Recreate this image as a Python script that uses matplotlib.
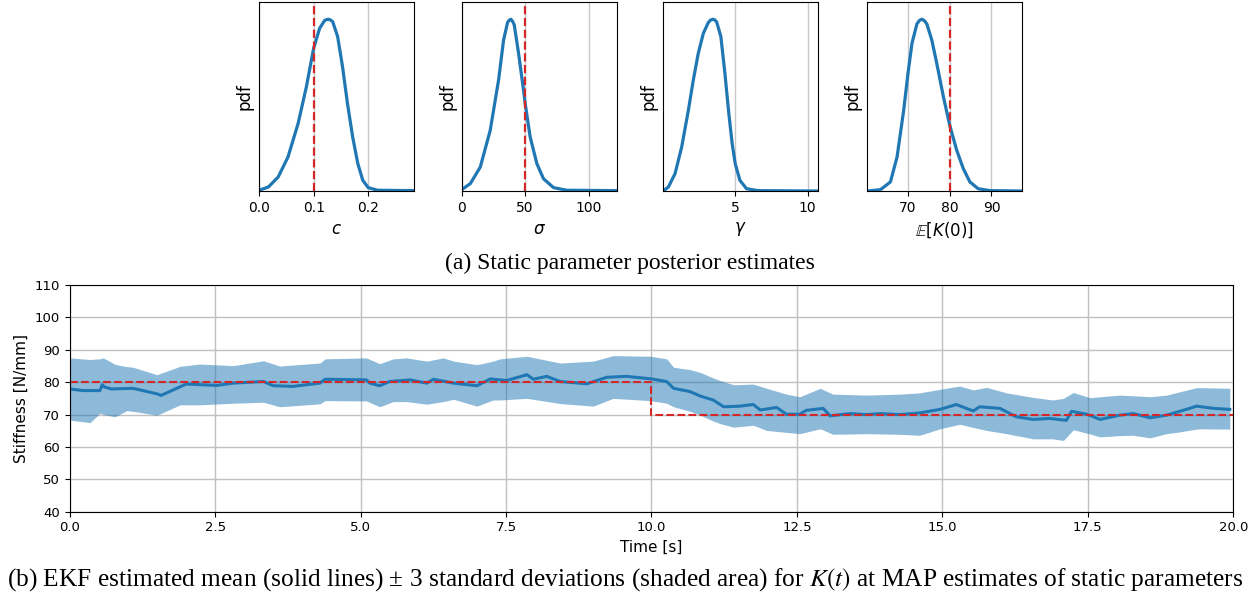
import matplotlib
matplotlib.use('Agg')
import matplotlib.pyplot as plt

plt.rcParams['mathtext.fontset'] = 'dejavusans'

# --- posterior pdfs (relative height) ---
c_x = [0.0, 0.017, 0.035, 0.053, 0.0715, 0.0867, 0.1, 0.111, 0.12, 0.1235, 0.127, 0.131,
       0.135, 0.144, 0.153, 0.162, 0.1715, 0.181, 0.19, 0.2, 0.217, 0.284]
c_pdf = [0.004, 0.021, 0.074, 0.18, 0.357, 0.552, 0.756, 0.862, 0.903, 0.908, 0.91, 0.906,
         0.897, 0.818, 0.658, 0.464, 0.287, 0.145, 0.057, 0.018, 0.004, 0.002]

sigma_x = [0.0, 6.8, 14.66, 22.5, 29.06, 33.0, 36.1, 37.4, 38.7, 40.0, 41.4, 44.8, 48.7,
           50.0, 53.9, 59.2, 64.4, 72.3, 82.7, 122.0]
sigma_pdf = [0.007, 0.039, 0.127, 0.322, 0.588, 0.8, 0.892, 0.905, 0.91, 0.90, 0.88,
             0.729, 0.535, 0.464, 0.287, 0.145, 0.065, 0.018, 0.004, 0.002]

gamma_x = [0.02, 0.39, 0.85, 1.31, 1.77, 2.11, 2.45, 2.80, 3.14, 3.29, 3.44, 3.58, 3.72,
           4.01, 4.29, 4.56, 4.79, 5.0, 5.32, 5.78, 6.58, 10.71]
gamma_pdf = [0.0, 0.021, 0.092, 0.234, 0.428, 0.588, 0.729, 0.835, 0.892, 0.905, 0.91,
             0.907, 0.896, 0.818, 0.623, 0.41, 0.251, 0.145, 0.057, 0.012, 0.002, 0.0]

k0_x = [60.24, 63.41, 65.79, 67.38, 68.97, 70.0, 70.95, 72.14, 72.7, 73.33, 73.9, 74.52,
        75.71, 76.9, 78.49, 80.0, 81.67, 83.25, 84.84, 86.83, 89.6, 97.38]
k0_pdf = [0.0, 0.007, 0.048, 0.18, 0.428, 0.623, 0.782, 0.885, 0.903, 0.91, 0.903, 0.885,
          0.8, 0.676, 0.499, 0.349, 0.216, 0.119, 0.048, 0.012, 0.002, 0.0]

# --- EKF stiffness estimate ---
mean_t = [0.0, 0.23, 0.52, 0.56, 0.6, 0.72, 1.09, 1.5, 1.57, 1.84, 2.0, 2.53, 2.81,
          3.33, 3.5, 3.84, 4.3, 4.39, 5.1, 5.16, 5.33, 5.5, 5.85, 6.14, 6.25, 6.6,
          7.0, 7.23, 7.51, 7.86, 7.97, 8.2, 8.43, 8.89, 9.23, 9.57, 10.0, 10.26,
          10.38, 10.66, 10.84, 11.06, 11.24, 11.52, 11.75, 11.87, 12.15, 12.32,
          12.55, 12.66, 12.95, 13.07, 13.41, 13.7, 13.93, 14.27, 14.61, 14.96,
          15.24, 15.53, 15.64, 15.99, 16.27, 16.56, 16.85, 17.13, 17.22, 17.48,
          17.71, 18.05, 18.28, 18.57, 18.85, 19.14, 19.37, 19.66, 19.94]
mean_k = [77.9, 77.4, 77.4, 79.2, 78.5, 77.9, 78.1, 76.4, 75.9, 78.1, 79.4, 79.0, 79.7,
          80.2, 78.9, 78.7, 79.7, 80.9, 80.7, 79.7, 78.9, 80.2, 80.7, 79.7, 80.9, 79.7,
          78.9, 81.0, 80.5, 82.3, 80.9, 81.8, 80.2, 79.5, 81.5, 81.8, 81.0, 80.2,
          78.1, 77.1, 75.7, 74.5, 72.4, 72.6, 73.1, 71.4, 72.2, 70.1,
          70.1, 71.3, 71.9, 69.6, 70.3, 70.0, 70.3, 70.0, 70.5, 71.6,
          73.1, 71.1, 72.4, 71.9, 69.3, 68.5, 68.8, 68.2, 71.0, 70.1,
          68.5, 69.8, 70.3, 69.0, 69.8, 71.3, 72.6, 71.9, 71.6]

band_t = [0.0, 0.35, 0.52, 0.58, 0.78, 0.98, 1.09, 1.5, 1.9, 2.24, 2.81, 3.33, 3.61,
          4.3, 4.39, 5.1, 5.33, 5.56, 5.79, 6.14, 6.42, 6.6, 7.0, 7.28, 7.4, 7.86,
          8.43, 9.0, 9.34, 9.98, 10.26, 10.38, 10.66, 10.84, 11.06, 11.18, 11.41,
          11.75, 11.98, 12.32, 12.55, 12.9, 13.12, 13.7, 14.27, 14.61, 14.96, 15.3,
          15.53, 15.76, 16.1, 16.56, 16.9, 17.08, 17.25, 17.54, 17.71, 18.05, 18.28,
          18.57, 18.85, 19.03, 19.37, 19.43, 19.94]
upper_k = [87.5, 87.0, 87.2, 87.5, 85.5, 84.8, 84.6, 82.3, 84.9, 85.6, 85.1, 86.6, 85.0,
           85.9, 87.2, 87.5, 85.7, 87.2, 87.5, 86.5, 87.5, 86.5, 85.4, 86.5, 87.2, 88.0,
           85.9, 86.5, 88.2, 88.0, 87.2, 84.6, 83.9, 83.0, 81.3, 80.5, 79.2,
           79.4, 78.1, 76.3, 75.5, 78.1, 76.3, 76.0, 76.3, 76.7, 77.8, 78.8,
           77.6, 78.4, 76.7, 75.3, 74.5, 75.0, 76.8, 75.2, 75.5, 76.0, 75.8,
           75.5, 76.0, 76.8, 78.3, 78.3, 78.1]
lower_k = [68.3, 67.5, 70.4, 70.0, 69.3, 71.2, 71.0, 69.8, 73.0, 73.0, 73.5, 73.8, 72.4,
           73.3, 74.3, 74.2, 72.4, 74.0, 74.0, 73.2, 74.0, 74.7, 72.6, 74.5, 74.5, 75.0,
           73.4, 72.6, 75.0, 74.3, 73.5, 72.4, 71.0, 69.8, 68.0, 67.2, 66.1,
           66.7, 65.1, 64.5, 64.1, 65.6, 63.9, 64.1, 63.9, 63.6, 65.6, 67.0,
           66.0, 65.1, 64.1, 62.5, 62.5, 62.0, 65.3, 64.0, 63.1, 63.5, 63.6,
           62.8, 64.1, 64.5, 65.5, 65.6, 65.5]

true_t = [0.0, 10.0, 10.0, 20.0]
true_k = [80, 80, 70, 70]

BLUE = '#1f77b4'
RED = '#d62728'


def pdf_panel(ax, x, y, xlim, xticks, xlabel, truth=None):
    ax.plot(x, y, color=BLUE, linewidth=2.3)
    if truth is not None:
        ax.axvline(truth, color=RED, linestyle='--', linewidth=1.6)
    ax.set_xlim(*xlim)
    ax.set_ylim(0, 1)
    ax.set_xticks(xticks)
    ax.set_yticks([])
    ax.grid(True, axis='x', color='#c8c8c8', linewidth=1)
    ax.set_axisbelow(True)
    ax.set_ylabel('pdf', fontsize=12)
    ax.set_xlabel(xlabel, fontsize=12)
    ax.tick_params(labelsize=10)


fig = plt.figure(figsize=(12.6, 5.98), dpi=100)

w, h, b = 0.123, 0.3156, 0.6806
lefts = [0.2056, 0.3664, 0.5262, 0.6883]
axes = [fig.add_axes([l, b, w, h]) for l in lefts]

pdf_panel(axes[0], c_x, c_pdf, (0.0, 0.284), [0.0, 0.1, 0.2], '$c$', truth=0.1)
axes[0].set_xticklabels(['0.0', '0.1', '0.2'])
pdf_panel(axes[1], sigma_x, sigma_pdf, (0.0, 122), [0, 50, 100], r'$\sigma$', truth=50)
pdf_panel(axes[2], gamma_x, gamma_pdf, (0.02, 10.71), [5, 10], r'$\gamma$')
pdf_panel(axes[3], k0_x, k0_pdf, (60.24, 97.38), [70, 80, 90], r'$\mathbb{E}[K(0)]$', truth=80)

fig.text(0.5, 0.560, '(a) Static parameter posterior estimates', ha='center', va='center',
         family='Liberation Serif', fontsize=17)

ax = fig.add_axes([0.0553, 0.1443, 0.9235, 0.3791])
ax.fill_between(band_t, lower_k, upper_k, color=BLUE, alpha=0.5, linewidth=0)
ax.plot(mean_t, mean_k, color=BLUE, linewidth=2.2)
ax.plot(true_t, true_k, color=RED, linestyle='--', linewidth=1.5)
ax.set_xlim(0, 20)
ax.set_ylim(40, 110)
ax.set_xticks([0, 2.5, 5, 7.5, 10, 12.5, 15, 17.5, 20])
ax.set_yticks(range(40, 111, 10))
ax.grid(True, color='#c0c0c0', linewidth=1)
ax.set_axisbelow(True)
ax.set_xlabel('Time [s]', fontsize=11, labelpad=4)
ax.set_ylabel('Stiffness [N/mm]', fontsize=11)
ax.tick_params(labelsize=9.5)

fig.text(0.496, 0.030, '(b) EKF estimated mean (solid lines) \u00b1 3 standard deviations '
         '(shaded area) for $K(t)$ at MAP estimates of static parameters',
         ha='center', va='center', family='Liberation Serif', fontsize=18.3,
         math_fontfamily='stix')

fig.savefig('out.png', dpi=100)
